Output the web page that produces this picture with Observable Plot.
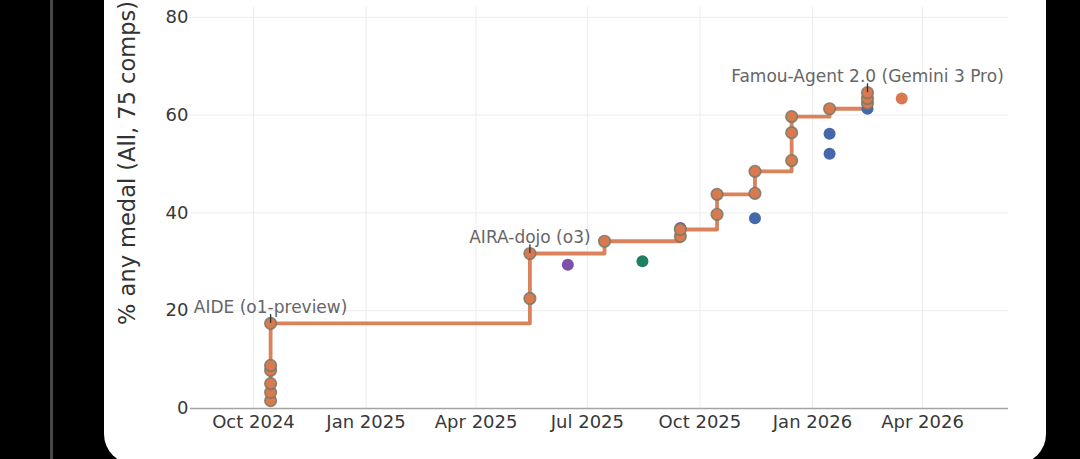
<!DOCTYPE html>
<html><head><meta charset="utf-8">
<script src="https://cdn.jsdelivr.net/npm/d3@7"></script>
<script src="https://cdn.jsdelivr.net/npm/@observablehq/plot@0.6"></script>
<style>
html,body{margin:0;padding:0;background:#000;width:1080px;height:459px;overflow:hidden;}
#bar{position:absolute;left:50px;top:0;width:3px;height:459px;background:#474747;}
#card{position:absolute;left:104px;top:-40px;width:942px;height:504px;background:#fff;border-radius:30px;}
#chart{position:absolute;left:0;top:0;}
</style></head><body>
<div id="bar"></div><div id="card"></div><div id="chart"></div>
<script>
// Frontier (best-so-far) submissions
const frontierDates = [
  "2024-10-15","2024-10-15","2024-10-15","2024-10-15","2024-10-15","2024-10-15",
  "2025-05-15","2025-05-15",
  "2025-07-15",
  "2025-09-15","2025-09-15",
  "2025-10-15","2025-10-15",
  "2025-11-15","2025-11-15",
  "2025-12-15","2025-12-15","2025-12-15",
  "2026-01-15",
  "2026-02-15","2026-02-15","2026-02-15"
];
const frontierScores = [
  1.6, 3.3, 5.1, 7.8, 8.8, 17.4,
  22.5, 31.7,
  34.2,
  35.2, 36.6,
  39.7, 43.8,
  44.0, 48.5,
  50.7, 56.4, 59.7,
  61.3,
  62.4, 63.4, 64.6
];
// Other (non-frontier) submissions
const otherDates  = ["2025-06-15","2025-08-15","2025-09-15","2025-11-15","2026-01-15","2026-01-15","2026-02-15","2026-03-15"];
const otherScores = [29.4, 30.1, 36.9, 38.9, 56.2, 52.1, 61.3, 63.4];
const otherGroups = ["Group C","Group D","Group C","Group B","Group B","Group B","Group B","Group A"];

const groupNames  = ["Group A","Group B","Group C","Group D"];
const groupColors = ["#d8794f","#4468aa","#7b52a8","#1f7f62"];

// Annotations
const annotationDates  = ["2024-10-15","2025-05-15","2026-02-15"];
const annotationScores = [17.4, 31.7, 64.6];
const annotationLabels = ["AIDE (o1-preview)","AIRA-dojo (o3)","Famou-Agent 2.0 (Gemini 3 Pro)"];

// Axes
const xTickDates  = ["2024-10-01","2025-01-01","2025-04-01","2025-07-01","2025-10-01","2026-01-01","2026-04-01"];
const xTickLabels = ["Oct 2024","Jan 2025","Apr 2025","Jul 2025","Oct 2025","Jan 2026","Apr 2026"];
const yTicks = [0, 20, 40, 60, 80];
const yLabel = "% any medal (All, 75 comps)";

const toDate = s => new Date(s + "T00:00:00Z");
const frontier = frontierDates.map((d, i) => ({date: toDate(d), score: frontierScores[i]}));
const others = otherDates.map((d, i) => ({date: toDate(d), score: otherScores[i], group: otherGroups[i]}));
const notes = annotationDates.map((d, i) => ({date: toDate(d), score: annotationScores[i], label: annotationLabels[i]}));
const xTicks = xTickDates.map(toDate);
const labelByTime = new Map(xTicks.map((d, i) => [+d, xTickLabels[i]]));

const chart = Plot.plot({
  width: 1080, height: 459,
  marginLeft: 190, marginRight: 72, marginTop: 7, marginBottom: 51,
  style: {background: "transparent", fontFamily: "DejaVu Sans", fontSize: "18px", color: "#383838"},
  x: {type: "utc", domain: [new Date("2024-08-10T12:00:00Z"), new Date("2026-06-10T07:00:00Z")]},
  y: {domain: [0, 82]},
  color: {type: "ordinal", domain: groupNames, range: groupColors},
  marks: [
    Plot.gridX(xTicks, {stroke: "#ececec", strokeOpacity: 1}),
    Plot.gridY(yTicks.filter(v => v > 0), {stroke: "#ececec", strokeOpacity: 1}),
    Plot.ruleY([0], {stroke: "#a3a3a3", strokeWidth: 1.5}),
    Plot.axisX({ticks: xTicks, tickSize: 0, tickPadding: 7, tickFormat: d => labelByTime.get(+d), label: null, fontSize: 18}),
    Plot.axisY({ticks: yTicks, tickSize: 0, tickPadding: 2, label: null, fontSize: 18}),
    Plot.line(frontier, {x: "date", y: "score", curve: "step-after", stroke: "#d9825c", strokeWidth: 3.8}),
    Plot.dot(others, {x: "date", y: "score", fill: "group", r: 6}),
    Plot.dot(frontier, {x: "date", y: "score", fill: "#d8794f", stroke: "#737a68", strokeOpacity: 0.85, strokeWidth: 1.6, r: 5.8}),
    Plot.ruleX(notes, {x: "date", y1: "score", y2: d => d.score + 1.8, stroke: "#333", strokeWidth: 1.3}),
    Plot.text(notes, {x: "date", y: "score", text: "label", dy: -16, fontSize: 17, fill: "#666", fontFamily: "DejaVu Sans"})
  ]
});
document.getElementById("chart").append(chart);

d3.select(chart).append("text")
  .attr("transform", "translate(135,163) rotate(-90)")
  .attr("text-anchor", "middle")
  .attr("font-family", "DejaVu Sans")
  .attr("font-size", 22.5)
  .attr("fill", "#333")
  .text(yLabel);
</script></body></html>
